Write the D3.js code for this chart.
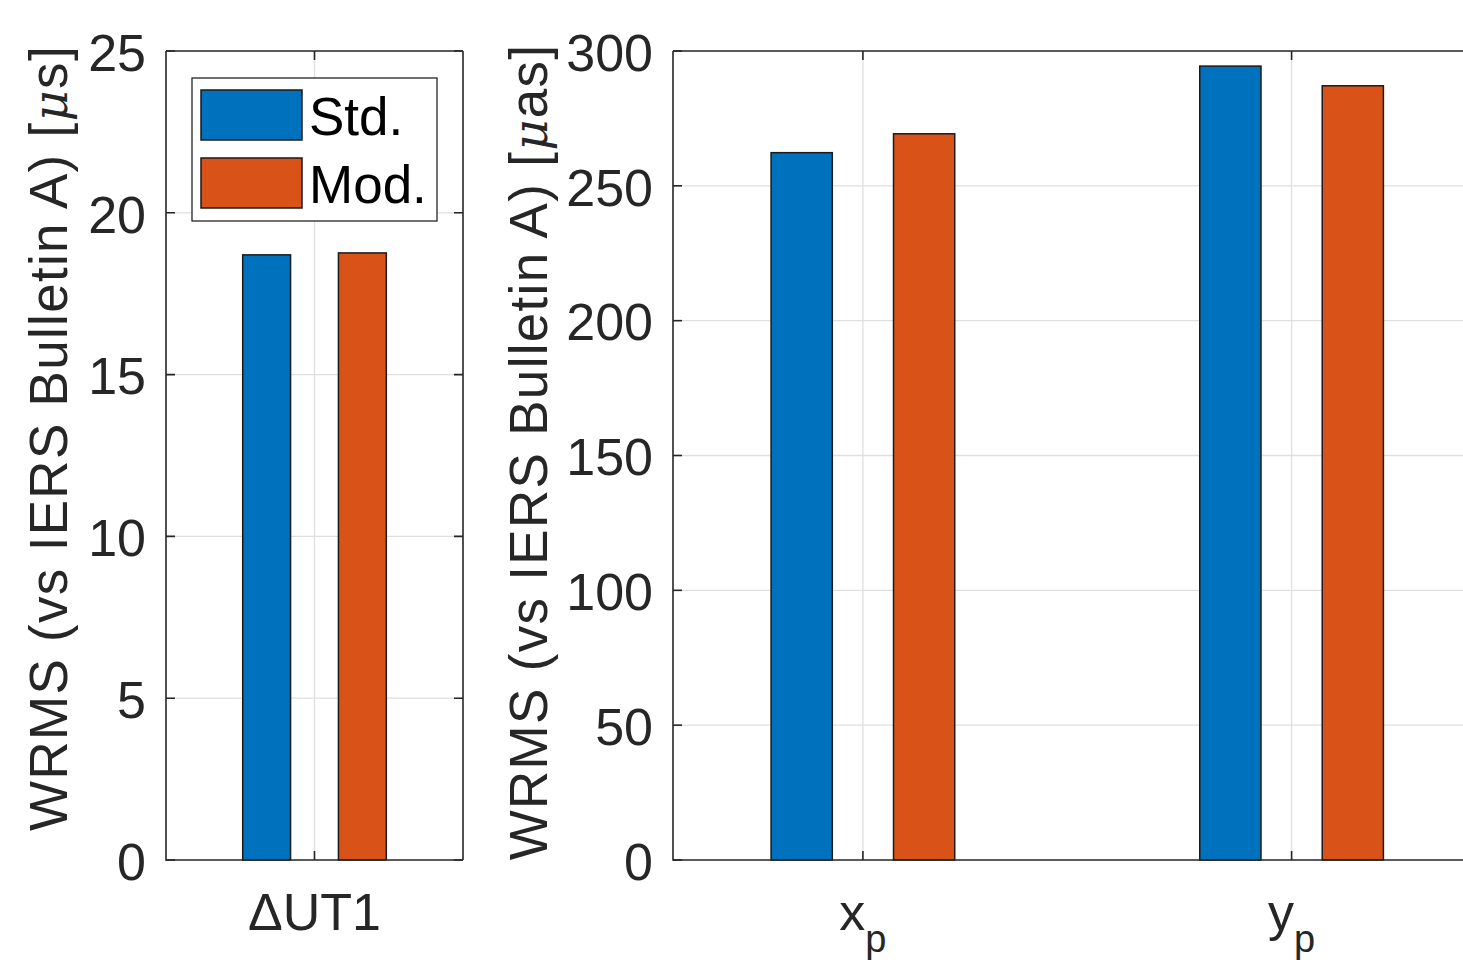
<!DOCTYPE html>
<html>
<head>
<meta charset="utf-8">
<script src="https://cdn.jsdelivr.net/npm/d3@7"></script>
<style>
  body { margin: 0; background: #fff; }
  svg { display: block; }
</style>
</head>
<body>
<div id="chart"></div>
<script>
// values
const seriesNames = ["Std.", "Mod."];
const leftCategories = ["ΔUT1"];
const leftStd = [18.70];
const leftMod = [18.76];
const leftTicks = [0, 5, 10, 15, 20, 25];

const rightCategories = ["x", "y"]; // drawn with subscript p
const rightStd = [262.3, 294.4];
const rightMod = [269.3, 287.1];
const rightTicks = [0, 50, 100, 150, 200, 250, 300];

const width = 1463, height = 965;
const colors = ["#0072BD", "#D95319"];
const font = "'Liberation Sans', Arial, Helvetica, sans-serif";
const axisColor = "#262626";
const gridColor = "#dfdfdf";

const svg = d3.select("#chart").append("svg")
    .attr("width", width)
    .attr("height", height);

// matlab grouped bar geometry: 2 bars, BarWidth 0.5
const groupOffset = 0.1428;
const barW = 0.1428;

function drawPanel(opts) {
    const { left, right, xDomain, yMax, ticks, cats, std, mod, ylabel, unit, labelX, labelY, subscript } = opts;
    const top = 51, bottom = 860;

    const x = d3.scaleLinear().domain(xDomain).range([left, right]);
    const y = d3.scaleLinear().domain([0, yMax]).range([bottom, top]);
    const boxRight = Math.min(right, width + 5);

    const g = svg.append("g");

    // grid
    g.append("g").selectAll("line")
        .data(ticks.filter(t => t > 0 && t < yMax))
        .join("line")
        .attr("x1", left).attr("x2", boxRight)
        .attr("y1", d => y(d)).attr("y2", d => y(d))
        .attr("stroke", gridColor).attr("stroke-width", 1.3);
    g.append("g").selectAll("line")
        .data(cats.map((c, i) => i + 1))
        .join("line")
        .attr("x1", d => x(d)).attr("x2", d => x(d))
        .attr("y1", top).attr("y2", bottom)
        .attr("stroke", gridColor).attr("stroke-width", 1.3);

    // bars
    const rows = [];
    cats.forEach((c, i) => {
        rows.push({ pos: i + 1 - groupOffset, v: std[i], s: 0 });
        rows.push({ pos: i + 1 + groupOffset, v: mod[i], s: 1 });
    });
    g.append("g").selectAll("rect")
        .data(rows)
        .join("rect")
        .attr("x", d => x(d.pos - barW / 2))
        .attr("width", d => x(d.pos + barW / 2) - x(d.pos - barW / 2))
        .attr("y", d => y(d.v))
        .attr("height", d => y(0) - y(d.v))
        .attr("fill", d => colors[d.s])
        .attr("stroke", "#1a1a1a")
        .attr("stroke-width", 1.5);

    // box
    g.append("path")
        .attr("d", `M${left},${top}H${boxRight}M${left},${top}V${bottom}H${boxRight}` + (right <= width ? `M${right},${top}V${bottom}` : ""))
        .attr("fill", "none").attr("stroke", axisColor).attr("stroke-width", 1.6);

    // ticks (inward, both sides)
    const tl = 9;
    g.append("g").selectAll("path")
        .data(ticks)
        .join("path")
        .attr("d", d => `M${left},${y(d)}h${tl}` + (right <= width ? `M${right},${y(d)}h${-tl}` : ""))
        .attr("stroke", axisColor).attr("stroke-width", 1.6);
    g.append("g").selectAll("path")
        .data(cats.map((c, i) => i + 1))
        .join("path")
        .attr("d", d => `M${x(d)},${bottom}v${-tl}M${x(d)},${top}v${tl}`)
        .attr("stroke", axisColor).attr("stroke-width", 1.6);

    // y tick labels
    g.append("g").selectAll("text")
        .data(ticks)
        .join("text")
        .attr("x", left - 20)
        .attr("y", d => y(d))
        .attr("dy", "0.38em")
        .attr("text-anchor", "end")
        .attr("font-family", font)
        .attr("font-size", "52px")
        .attr("fill", axisColor)
        .text(d => d);

    // x tick labels
    const xt = g.append("g").selectAll("text")
        .data(cats)
        .join("text")
        .attr("x", (d, i) => x(i + 1))
        .attr("y", 930)
        .attr("text-anchor", "middle")
        .attr("font-family", font)
        .attr("font-size", "52px")
        .attr("fill", axisColor);
    xt.append("tspan").text(d => d);
    if (subscript) {
        xt.append("tspan").attr("dy", 22).attr("font-size", "38px").text(subscript);
    }

    // y label
    const yl = g.append("text")
        .attr("transform", `translate(${labelX},${labelY}) rotate(-90)`)
        .attr("text-anchor", "middle")
        .attr("font-family", font)
        .attr("font-size", "53px")
        .attr("letter-spacing", "1.3px")
        .attr("fill", axisColor);
    yl.append("tspan").text(ylabel + " [");
    yl.append("tspan")
        .attr("font-family", "'DejaVu Serif', 'Liberation Serif', serif")
        .attr("font-style", "italic")
        .attr("font-size", "48px")
        .text("μ");
    yl.append("tspan").text(unit + "]");

    return { x, y };
}

drawPanel({
    left: 166, right: 463, xDomain: [0.557, 1.443], yMax: 25, ticks: leftTicks,
    cats: leftCategories, std: leftStd, mod: leftMod,
    ylabel: "WRMS (vs IERS Bulletin A)", unit: "s", labelX: 67, labelY: 438
});

drawPanel({
    left: 673, right: 1481.5, xDomain: [0.557, 2.443], yMax: 300, ticks: rightTicks,
    cats: rightCategories, std: rightStd, mod: rightMod,
    ylabel: "WRMS (vs IERS Bulletin A)", unit: "as", labelX: 547, labelY: 452, subscript: "p"
});

// legend
const legend = svg.append("g").attr("transform", "translate(192,78)");
legend.append("rect")
    .attr("width", 245).attr("height", 143)
    .attr("fill", "#fff").attr("stroke", axisColor).attr("stroke-width", 1.3);
legend.selectAll("rect.sw")
    .data(seriesNames)
    .join("rect")
    .attr("class", "sw")
    .attr("x", 9).attr("y", (d, i) => 12 + i * 68)
    .attr("width", 101).attr("height", 50)
    .attr("fill", (d, i) => colors[i])
    .attr("stroke", "#1a1a1a").attr("stroke-width", 1.5);
legend.selectAll("text")
    .data(seriesNames)
    .join("text")
    .attr("x", 117).attr("y", (d, i) => 38 + i * 68)
    .attr("dy", "0.35em")
    .attr("font-family", font)
    .attr("font-size", "53px")
    .attr("fill", "#000")
    .text(d => d);
</script>
</body>
</html>
